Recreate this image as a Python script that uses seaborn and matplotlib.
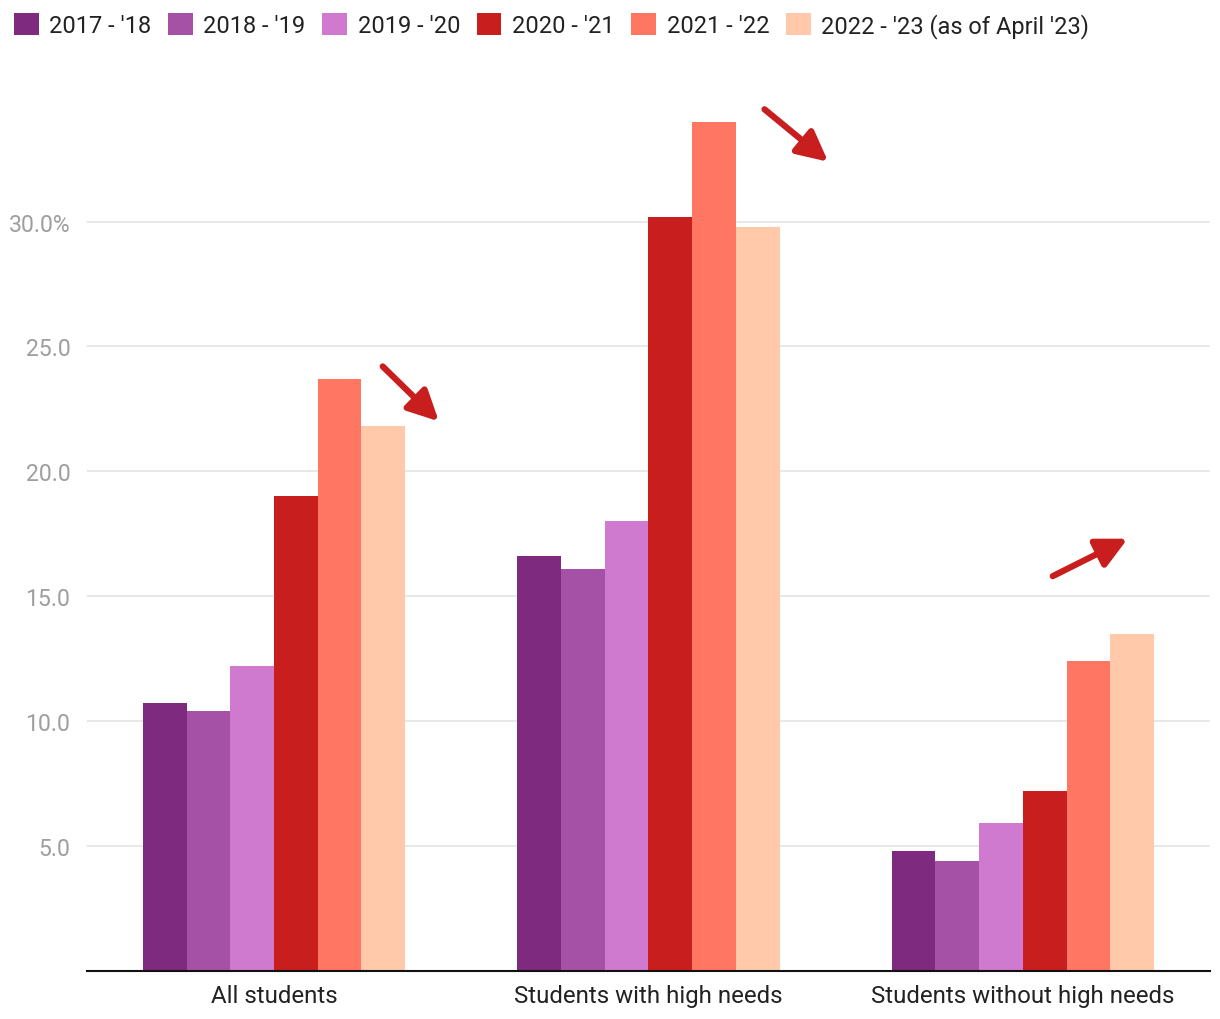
import pandas as pd
import numpy as np
import matplotlib
matplotlib.use('Agg')
import matplotlib.pyplot as plt
from matplotlib.patches import Patch
import seaborn as sns

groups = ['All students', 'Students with high needs', 'Students without high needs']
years = ["2017 - '18", "2018 - '19", "2019 - '20", "2020 - '21", "2021 - '22",
         "2022 - '23 (as of April '23)"]
all_students = [10.7, 10.4, 12.2, 19.0, 23.7, 21.8]
high_needs = [16.6, 16.1, 18.0, 30.2, 34.0, 29.8]
no_high_needs = [4.8, 4.4, 5.9, 7.2, 12.4, 13.5]
colors = ['#7e2a7e', '#a552a6', '#cf79cf', '#c81e1e', '#ff7662', '#ffc9aa']
yticks = [5, 10, 15, 20, 25, 30]
ytick_labels = ['5.0', '10.0', '15.0', '20.0', '25.0', '30.0%']

# trend arrows (start x, start y, end x, end y) in data units
arrows = [(0.29, 24.2, 0.44, 22.0),
          (1.31, 34.5, 1.48, 32.4),
          (2.08, 15.8, 2.28, 17.3)]

rows = []
for g, vals in zip(groups, [all_students, high_needs, no_high_needs]):
    for y, v in zip(years, vals):
        rows.append({'group': g, 'year': y, 'value': v})
df = pd.DataFrame(rows)

sns.set_style('white')
plt.rcParams['font.family'] = ['Roboto', 'DejaVu Sans']

fig = plt.figure(figsize=(12.2, 10.2), dpi=100)
ax = fig.add_axes([0.0713, 0.0475, 0.9205, 0.8835])

sns.barplot(data=df, x='group', y='value', hue='year', order=groups, hue_order=years,
            palette=colors, saturation=1, width=0.7, legend=False, ax=ax, zorder=2)
for p in ax.patches:
    p.set_edgecolor('none')

ax.set_xlim(-0.5, 2.5)
ax.set_ylim(0, 36.1)
ax.set_yticks(yticks)
ax.set_yticklabels(ytick_labels, color='#9e9e9e', fontsize=16.6)
ax.tick_params(axis='y', length=0, pad=12)
ax.tick_params(axis='x', length=0, pad=10, labelsize=17.3, labelcolor='#222222')
ax.grid(axis='y', color='#e4e4e4', lw=1.2, zorder=0)
ax.set_axisbelow(True)
ax.set_xlabel('')
ax.set_ylabel('')
for s in ['top', 'right', 'left']:
    ax.spines[s].set_visible(False)
ax.spines['bottom'].set_color('#111111')
ax.spines['bottom'].set_linewidth(1.5)

for x0, y0, x1, y1 in arrows:
    ax.annotate('', xy=(x1, y1), xytext=(x0, y0),
                arrowprops=dict(arrowstyle='-|>', color='#c81e1e', lw=4.5,
                                mutation_scale=46, shrinkA=0, shrinkB=0))

handles = [Patch(facecolor=c, edgecolor='none', label=y) for c, y in zip(colors, years)]
fig.legend(handles=handles, loc='upper left', bbox_to_anchor=(-0.004, 1.005), ncol=6,
           frameon=False, fontsize=17.0, handlelength=1.05, handleheight=1.05,
           handletextpad=0.45, columnspacing=0.7, borderpad=0.3, labelcolor='#222222')

fig.savefig('out.png', dpi=100)
